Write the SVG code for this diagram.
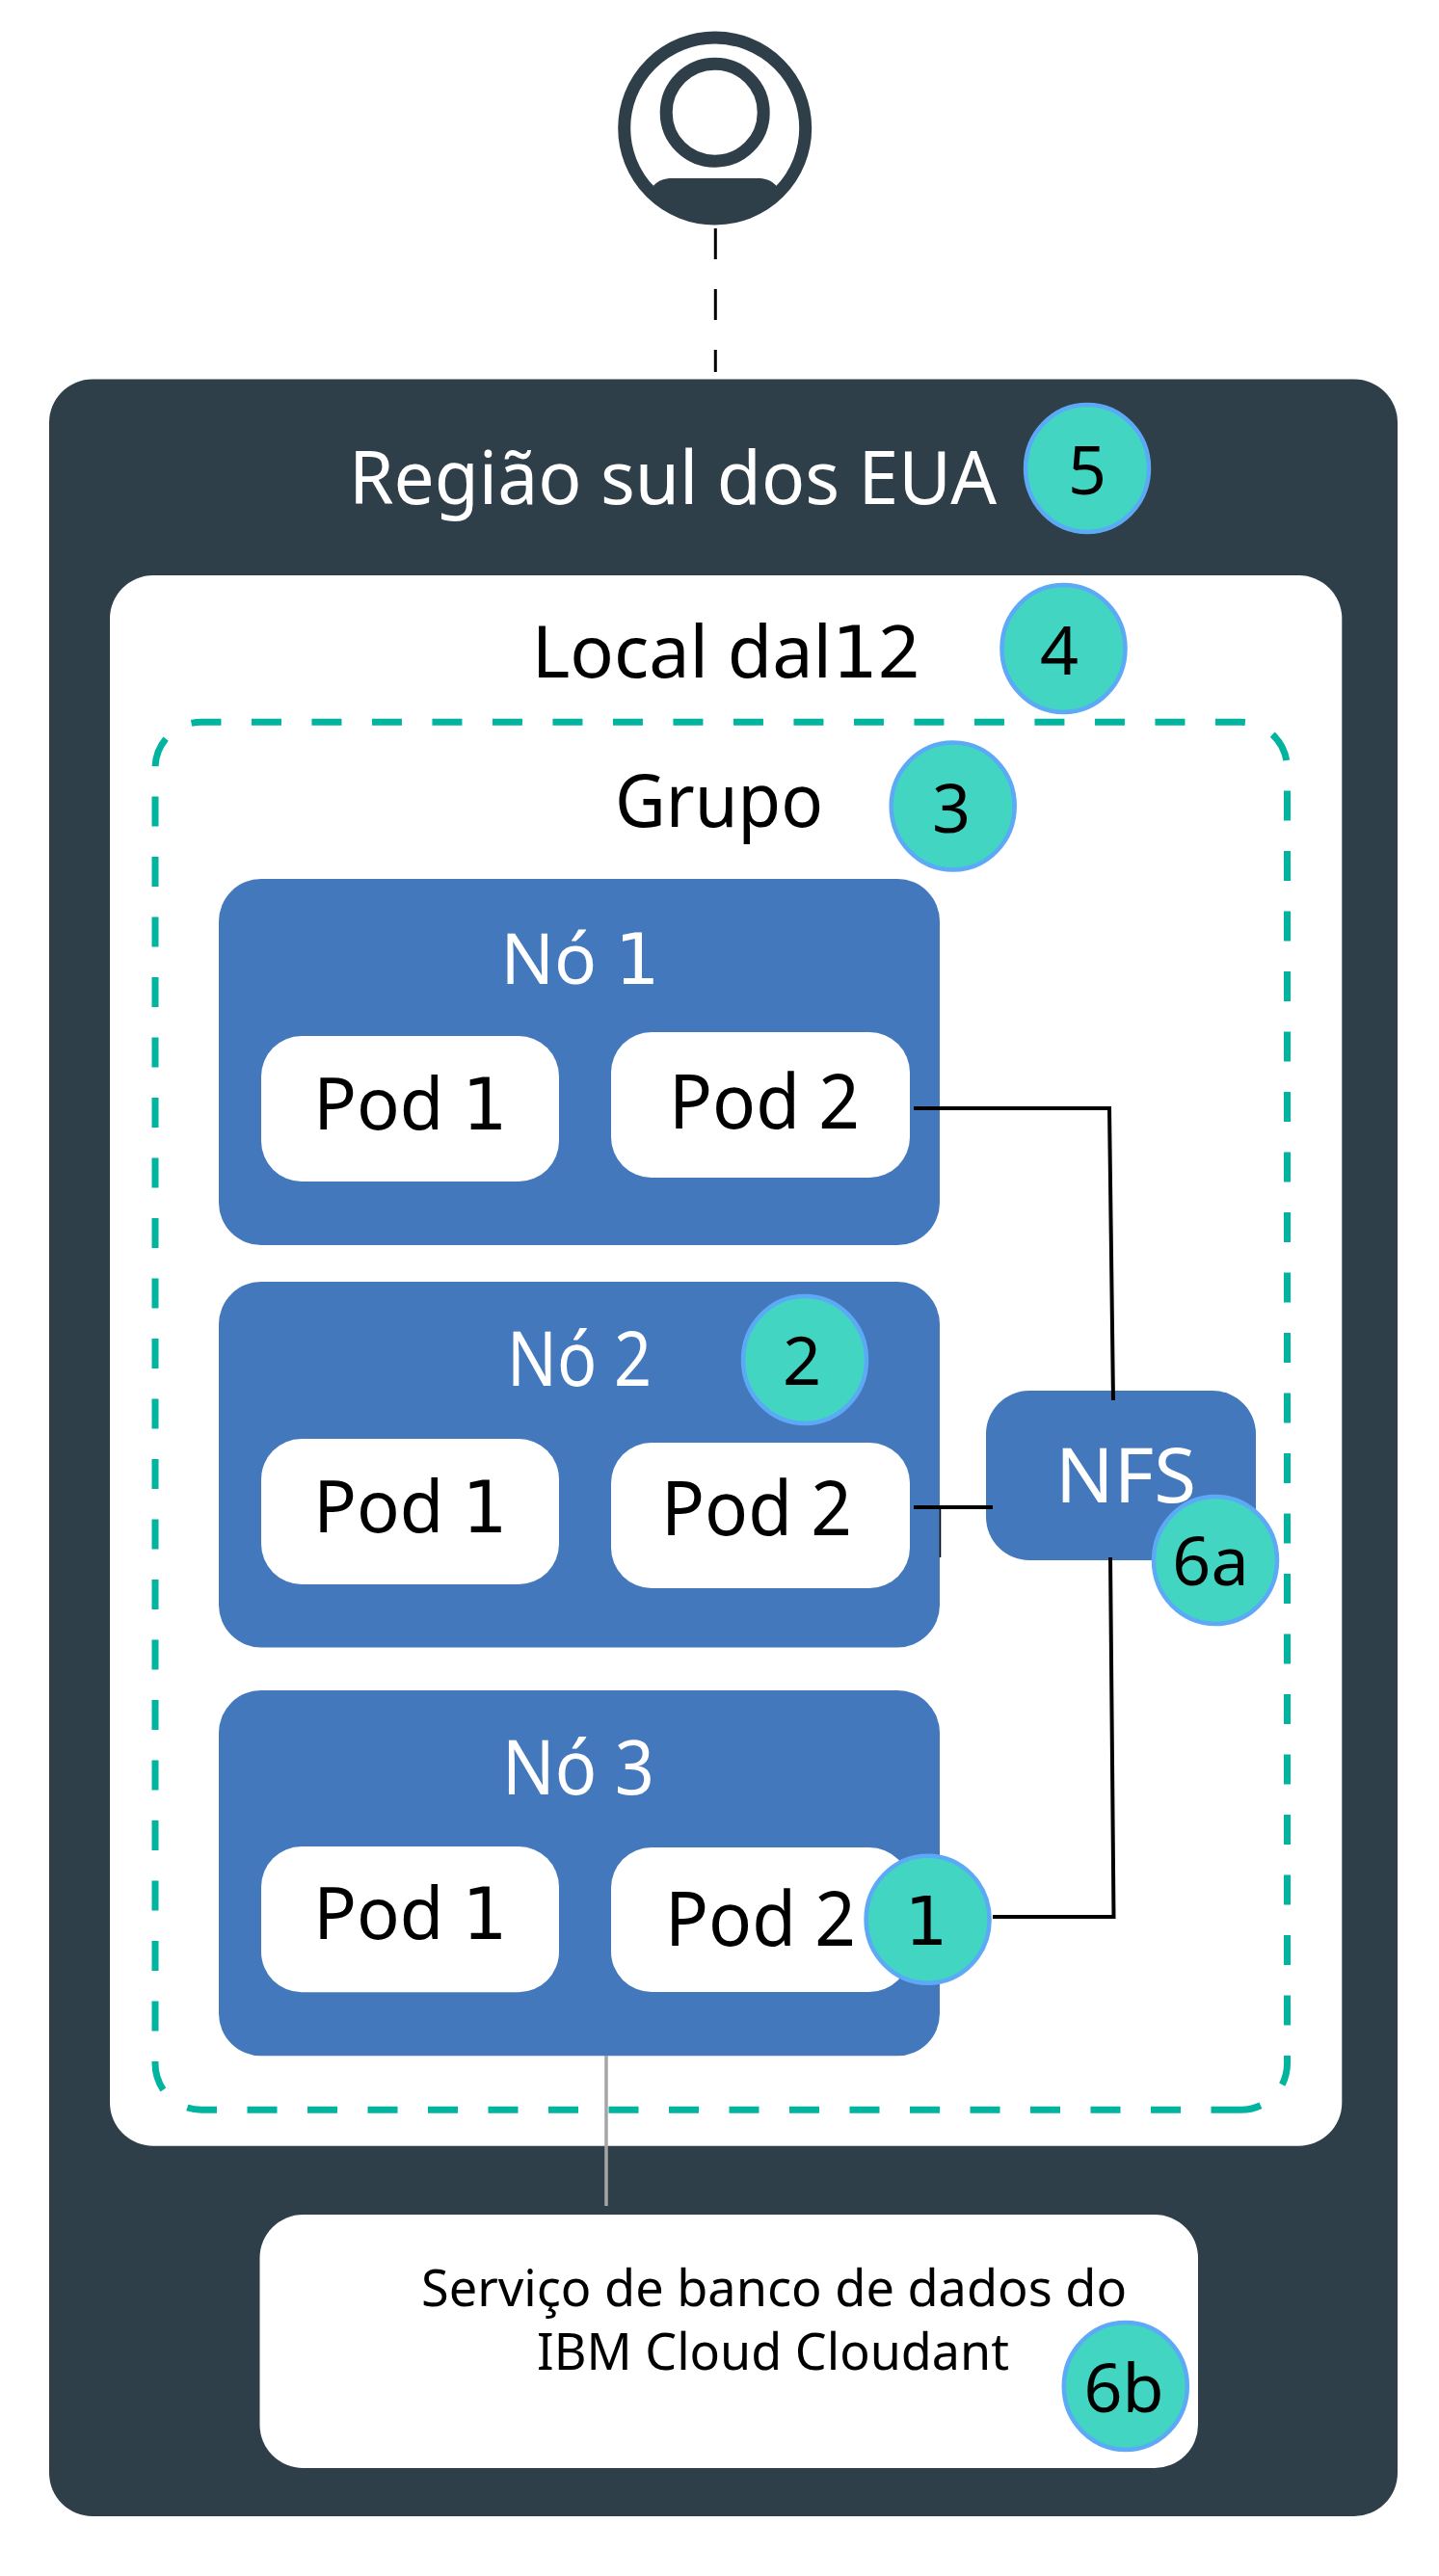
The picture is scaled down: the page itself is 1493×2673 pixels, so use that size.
<svg xmlns="http://www.w3.org/2000/svg" width="1493" height="2673" viewBox="0 0 1493 2673">
<style>
text{font-family:"Noto Sans","Open Sans",sans-serif;text-anchor:middle;fill:#000}
.w{fill:#fff}
.blue{fill:#4478bd}
.pod{fill:#fff}
.pt{font-size:78px}
.pt1{font-size:74px}
.nt{font-size:78px;fill:#fff}
.nt1{font-size:73px;fill:#fff}
.badge{fill:#42d6c2;stroke:#5ca9f5;stroke-width:4.500}
.bt{font-size:70px}
.c{fill:none;stroke:#000;stroke-width:4}
.d{font-family:"DejaVu Sans",sans-serif}
</style>
<rect width="1493" height="2673" fill="#fff"/>
<g id="user"><circle cx="741.7" cy="133" r="94" fill="none" stroke="#2e3f4a" stroke-width="13"/><circle cx="741.7" cy="116.7" r="50.5" fill="none" stroke="#2e3f4a" stroke-width="13"/><path d="M677.7 193C683 187 690 185 697 185H787C794 185 800 187 805.7 193A80 80 0 0 1 677.7 193Z" fill="#2e3f4a"/></g>
<g id="region"><rect x="51" y="393.500" width="1399" height="2217.500" rx="45" fill="#2e3f4a"/><text x="698" y="522.500" font-size="76" class="w" textLength="672" lengthAdjust="spacingAndGlyphs">Região sul dos EUA</text></g>
<g id="local"><rect x="114" y="597" width="1278.300" height="1629.700" rx="45" fill="#fff"/><text x="753" y="702.500" font-size="75.500">Local dal<tspan class="d">1</tspan>2</text></g>
<g id="cluster"><path d="M1287.500 2189.300H209A48 48 0 0 1 161 2141.300V797.300A48 48 0 0 1 209 749.300H1287.500A48 48 0 0 1 1335.500 797.300V2141.300A48 48 0 0 1 1287.500 2189.300" fill="none" stroke="#00b4a0" stroke-width="7" stroke-dasharray="31 31.500"/><text x="746" y="858" font-size="76" textLength="216" lengthAdjust="spacingAndGlyphs">Grupo</text></g>
<g id="node1"><rect class="blue" x="227" y="912" width="748" height="380" rx="44"/><text class="nt1" x="602" y="1021">Nó <tspan class="d">1</tspan></text></g>
<g id="node2"><rect class="blue" x="227" y="1330" width="748" height="379.500" rx="44"/><text class="nt" x="601" y="1438" textLength="150" lengthAdjust="spacingAndGlyphs">Nó 2</text></g>
<g id="node3"><rect class="blue" x="227" y="1754" width="748" height="379.300" rx="44"/><text class="nt" x="600" y="1862" textLength="158" lengthAdjust="spacingAndGlyphs">Nó 3</text></g>
<g id="n1p1"><rect class="pod" x="271" y="1075" width="309" height="151" rx="42"/><text class="pt1" x="426" y="1172">Pod <tspan class="d">1</tspan></text></g>
<g id="n1p2"><rect class="pod" x="634" y="1071" width="310" height="151" rx="42"/><text class="pt" x="793" y="1171" textLength="198" lengthAdjust="spacingAndGlyphs">Pod 2</text></g>
<g id="n2p1"><rect class="pod" x="271" y="1493" width="309" height="151" rx="42"/><text class="pt1" x="426" y="1590">Pod <tspan class="d">1</tspan></text></g>
<g id="n2p2"><rect class="pod" x="634" y="1497" width="310" height="151" rx="42"/><text class="pt" x="785" y="1593" textLength="198" lengthAdjust="spacingAndGlyphs">Pod 2</text></g>
<g id="n3p1"><rect class="pod" x="271" y="1916" width="309" height="151.300" rx="42"/><text class="pt1" x="426" y="2012">Pod <tspan class="d">1</tspan></text></g>
<g id="n3p2"><rect class="pod" x="634" y="1917" width="310" height="150" rx="42"/><text class="pt" x="789" y="2019" textLength="198" lengthAdjust="spacingAndGlyphs">Pod 2</text></g>
<g id="nfs"><rect class="blue" x="1023" y="1443" width="280" height="176" rx="45"/><text class="nt" x="1168" y="1559" textLength="146" lengthAdjust="spacingAndGlyphs">NFS</text></g>
<g id="db"><rect x="269.500" y="2298" width="973.500" height="263" rx="45" fill="#fff"/><text x="803" y="2393" font-size="52" textLength="732" lengthAdjust="spacingAndGlyphs">Serviço de banco de dados do</text><text x="802" y="2459" font-size="52" textLength="490" lengthAdjust="spacingAndGlyphs">IBM Cloud Cloudant</text></g>
<g id="connectors">
<path d="M742.300 237V386" fill="none" stroke="#000" stroke-width="3" stroke-dasharray="32 31"/>
<path class="c" d="M948 1150H1151L1155 1453"/>
<path class="c" d="M948 1564H1030"/>
<path d="M975.500 1564V1616" fill="none" stroke="#000" stroke-width="1.500"/>
<path class="c" d="M1152 1616L1155.500 1989H1030"/>
<path d="M629 2133V2289" fill="none" stroke="#a5a5a5" stroke-width="3.500"/>
</g>
<g id="badge5"><ellipse class="badge" cx="1128" cy="486" rx="64" ry="66"/><text class="bt" x="1128" y="512.500">5</text></g>
<g id="badge4"><ellipse class="badge" cx="1103.500" cy="673" rx="64" ry="66"/><text class="bt" x="1099" y="700">4</text></g>
<g id="badge3"><ellipse class="badge" cx="988.700" cy="836.500" rx="64" ry="66"/><text class="bt" x="987" y="864">3</text></g>
<g id="badge2"><ellipse class="badge" cx="835" cy="1411" rx="64" ry="66"/><text class="bt" x="832" y="1437">2</text></g>
<g id="badge6a"><ellipse class="badge" cx="1261" cy="1619" rx="64" ry="66"/><text class="bt" x="1256" y="1645">6a</text></g>
<g id="badge1"><ellipse class="badge" cx="962.600" cy="1991.700" rx="64" ry="66"/><text class="bt d" x="961" y="2018">1</text></g>
<g id="badge6b"><ellipse class="badge" cx="1167.800" cy="2476" rx="64" ry="66"/><text class="bt" x="1166" y="2502.500">6b</text></g>
</svg>
